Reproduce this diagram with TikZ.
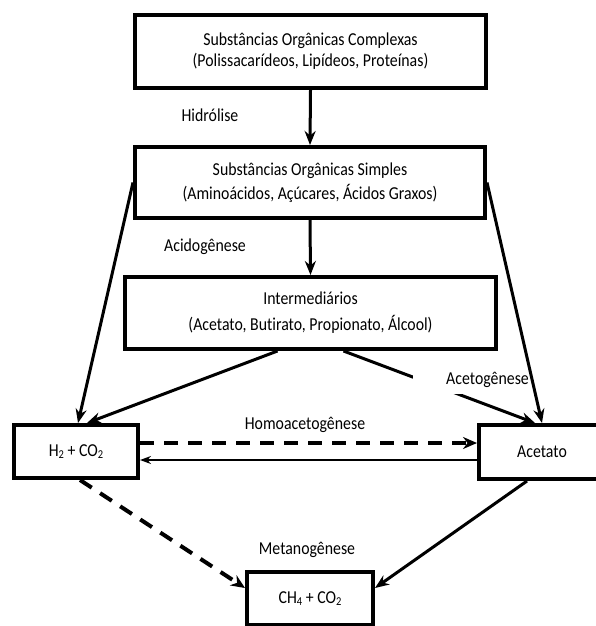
\documentclass[tikz,border=0pt]{standalone}
\usepackage{fontspec}
\setmainfont{Carlito}[FakeStretch=0.87,Ligatures=NoCommon]
\usetikzlibrary{arrows.meta}
\newcommand\sbs[1]{\raisebox{-0.2ex}{\fontsize{12}{12}\selectfont #1}}
\begin{document}
\begin{tikzpicture}[x=1pt,y=-1pt,
  font=\fontsize{18.2}{21}\selectfont,
  box/.style={draw, line width=4pt, fill=white, inner sep=0pt, align=center},
  arr/.style={line width=3pt, -{Stealth[length=14pt,width=11pt]}},
  darr/.style={line width=4pt, dash pattern=on 14pt off 10pt, -{Stealth[length=14pt,width=12pt]}},
  tarr/.style={line width=1.5pt, -{Stealth[length=11pt,width=8pt]}},
  lbl/.style={inner sep=0pt}]
\clip (0,0) rectangle (596,626);
\fill[white] (0,0) rectangle (596,626);
\coordinate (yd) at (0,443);
\coordinate (yt) at (0,460);
\coordinate (yc) at (0,588);
\node[box, minimum width=351pt, minimum height=73pt] (b1) at (310.5,51.5)
  {Substâncias Orgânicas Complexas\\(Polissacarídeos, Lipídeos, Proteínas)};
\node[box, minimum width=350pt, minimum height=71pt] (b2) at (310,182.5)
  {Substâncias Orgânicas Simples\\[3pt](Aminoácidos, Açúcares, Ácidos Graxos)};
\node[box, minimum width=371pt, minimum height=72pt] (b3) at (310.5,313)
  {Intermediários\\[5pt](Acetato, Butirato, Propionato, Álcool)};
\node[box, minimum width=124pt, minimum height=53pt] (h2) at (76,451.5) {H\sbs{2} + CO\sbs{2}};
\node[box, minimum width=126pt, minimum height=54pt] (ac) at (542,452) {Acetato};
\node[box, minimum width=126pt, minimum height=53pt] (ch) at (310,598.5) {CH\sbs{4} + CO\sbs{2}};
\node[lbl, anchor=base] (hid) at (210,121) {Hidrólise};
\node[lbl, anchor=base] (aci) at (205,251) {Acidogênese};
\node[lbl, anchor=base] (hom) at (305,429) {Homoacetogênese};
\node[lbl, anchor=base] (met) at (307,554) {Metanogênese};
\draw[arr] (b1.south) -- (b2.north);
\draw[arr] (b2.south) -- (b3.north);
\draw[arr] (b2.west) -- ([xshift=2pt]h2.north);
\draw[arr] ([xshift=-33pt]b3.south) -- ([xshift=11pt]h2.north);
\draw[arr] ([xshift=33pt]b3.south) -- ([xshift=-7pt]ac.north);
\draw[arr] (b2.east) -- (ac.north);
\draw[darr] (h2.east |- yd) -- (ac.west |- yd);
\draw[tarr] (ac.west |- yt) -- (h2.east |- yt);
\draw[darr] ([xshift=4pt]h2.south) -- (ch.west |- yc);
\draw[arr] ([xshift=-15pt]ac.south) -- (ch.east |- yc);
\node[lbl, fill=white, text width=116pt, align=right, text height=11pt, text depth=10pt, anchor=base east] (acg) at (529,384) {Acetogênese};
\end{tikzpicture}
\end{document}
